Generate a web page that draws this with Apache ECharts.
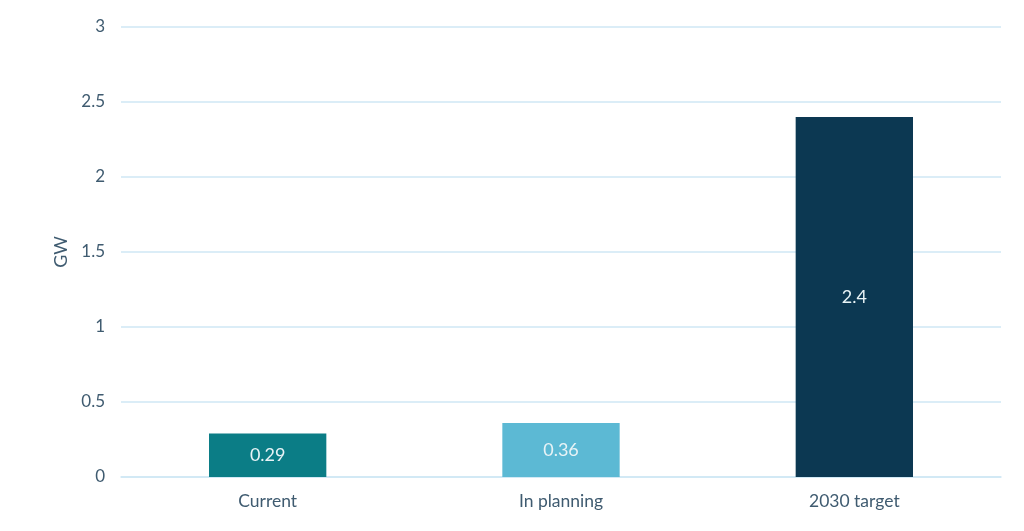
<!DOCTYPE html>
<html>
<head>
    <meta charset="utf-8">
    <title>GW chart</title>
    <style>
        html, body {
            margin: 0;
            padding: 0;
            background-color: #fff;
        }
        #chart {
            width: 1024px;
            height: 531px;
        }
    </style>
</head>
<body>
    <div id="chart"></div>
    <script src="https://cdn.jsdelivr.net/npm/echarts@6/dist/echarts.min.js"></script>
    <script>
        var categories = ['Current', 'In planning', '2030 target'];
        var values = [0.29, 0.36, 2.4];
        var barColors = ['#0b7d86', '#5cb9d4', '#0c3852'];

        var textColor = '#3f5b70';
        var gridColor = '#cfe7f5';

        var myChart = echarts.init(document.getElementById('chart'));

        var option = {
            animation: false,
            grid: {
                left: 121,
                right: 23,
                top: 27,
                bottom: 54
            },
            xAxis: {
                type: 'category',
                data: categories,
                axisLine: { lineStyle: { color: gridColor, width: 1.5 } },
                axisTick: { show: false },
                axisLabel: {
                    color: textColor,
                    fontFamily: 'Lato',
                    fontSize: 17.5,
                    margin: 15
                }
            },
            yAxis: {
                type: 'value',
                min: 0,
                max: 3,
                interval: 0.5,
                name: 'GW',
                nameLocation: 'middle',
                nameGap: 50,
                nameTextStyle: {
                    color: textColor,
                    fontFamily: 'Lato',
                    fontSize: 18
                },
                axisLine: { show: false },
                axisTick: { show: false },
                axisLabel: {
                    color: textColor,
                    fontFamily: 'Lato',
                    fontSize: 17,
                    margin: 16
                },
                splitLine: { lineStyle: { color: gridColor, width: 1.5 } }
            },
            series: [{
                type: 'bar',
                barWidth: '40%',
                data: values.map(function (v, i) {
                    return { value: v, itemStyle: { color: barColors[i] } };
                }),
                label: {
                    show: true,
                    position: 'inside',
                    color: '#e8f3f6',
                    fontFamily: 'Lato',
                    fontSize: 18
                }
            }]
        };

        myChart.setOption(option);
    </script>
</body>
</html>
